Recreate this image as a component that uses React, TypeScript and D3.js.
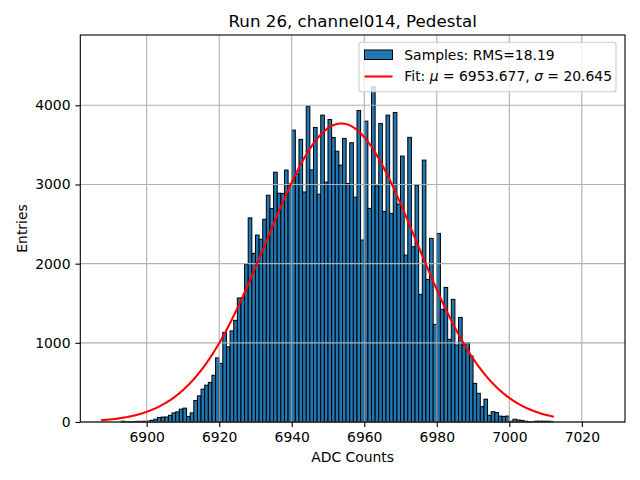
import * as d3 from 'd3';

import React, { useEffect, useRef } from 'react';

// histogram: one bin per ADC count, starting at firstBin
const firstBin = 6893;
const counts = [
  10, 4, 4, 6, 8, 8, 10, 12, 22, 35, 57, 62, 63, 85, 115, 128, 162, 175, 70, 115,
  272, 330, 415, 465, 500, 590, 810, 740, 1132, 950, 1150, 1284, 1566, 1566, 1990, 2578,
  2130, 2361, 2308, 2560, 2864, 2696, 3155, 2890, 2887, 3182, 3005, 3687, 3135, 3570,
  2905, 3990, 3185, 3720, 2877, 3876, 3030, 3821, 3594, 3420, 3245, 3582, 3013, 3527,
  2840, 3935, 2298, 3800, 2698, 4234, 2982, 3771, 2660, 3876, 2635, 3910, 2752, 3359,
  2108, 3595, 2214, 2992, 1612, 3308, 1801, 2319, 1233, 2382, 1423, 1700, 1044, 1549,
  972, 1321, 972, 1002, 833, 488, 362, 194, 288, 85, 130, 120, 75, 70, 75, 10, 35, 25,
  20, 10, 4, 3, 10, 10, 10, 10, 8,
];

const xTicks = [6900, 6920, 6940, 6960, 6980, 7000, 7020];
const yTicks = [0, 1000, 2000, 3000, 4000];
const xDomain = [6881.7, 7031.9];
const yDomain = [0, 4888];

// gaussian fit shown in the legend
const fitMu = 6953.677;
const fitSigma = 20.645;
const fitPeak = 3770;
const fitSpan = [6887.4, 7012.3];

const title = 'Run 26, channel014, Pedestal';
const xLabel = 'ADC Counts';
const yLabel = 'Entries';
const sampleLabel = 'Samples: RMS=18.19';

const W = 640;
const H = 480;
const left = 80.3;
const right = 625;
const top = 35;
const bottom = 422;
const font = 'DejaVu Sans, sans-serif';

export default function App() {
  const ref = useRef(null);

  useEffect(() => {
    const svg = d3.select(ref.current);
    svg.selectAll('*').remove();

    const x = d3.scaleLinear().domain(xDomain).range([left, right]);
    const y = d3.scaleLinear().domain(yDomain).range([bottom, top]);

    svg.append('rect').attr('width', W).attr('height', H).attr('fill', 'white');

    // bars
    const bins = counts.map((c, i) => ({ x0: firstBin + i, x1: firstBin + i + 1, c }));
    svg
      .append('g')
      .selectAll('rect')
      .data(bins)
      .join('rect')
      .attr('x', (d) => x(d.x0))
      .attr('y', (d) => y(d.c))
      .attr('width', (d) => x(d.x1) - x(d.x0))
      .attr('height', (d) => y(0) - y(d.c))
      .attr('fill', '#1f77b4')
      .attr('stroke', 'black')
      .attr('stroke-width', 1);

    // grid above the bars, below the line
    const grid = svg.append('g').attr('stroke', '#b0b0b0').attr('stroke-width', 1.1);
    grid
      .selectAll('line.v')
      .data(xTicks)
      .join('line')
      .attr('x1', (d) => x(d))
      .attr('x2', (d) => x(d))
      .attr('y1', top)
      .attr('y2', bottom);
    grid
      .selectAll('line.h')
      .data(yTicks)
      .join('line')
      .attr('x1', left)
      .attr('x2', right)
      .attr('y1', (d) => y(d))
      .attr('y2', (d) => y(d));

    // fit curve
    const fx = d3.range(fitSpan[0], fitSpan[1], 0.25).concat([fitSpan[1]]);
    const gauss = (v: number) => fitPeak * Math.exp(-0.5 * ((v - fitMu) / fitSigma) ** 2);
    const line = d3
      .line<number>()
      .x((d) => x(d))
      .y((d) => y(gauss(d)));
    svg
      .append('path')
      .attr('d', line(fx))
      .attr('fill', 'none')
      .attr('stroke', 'red')
      .attr('stroke-width', 2.08);

    // frame
    svg
      .append('rect')
      .attr('x', left)
      .attr('y', top)
      .attr('width', right - left)
      .attr('height', bottom - top)
      .attr('fill', 'none')
      .attr('stroke', 'black')
      .attr('stroke-width', 1.1);

    // axes
    const xAxis = svg
      .append('g')
      .attr('transform', `translate(0,${bottom})`)
      .call(d3.axisBottom(x).tickValues(xTicks).tickSize(4.9).tickPadding(4.9).tickFormat(d3.format('d')));
    const yAxis = svg
      .append('g')
      .attr('transform', `translate(${left},0)`)
      .call(d3.axisLeft(y).tickValues(yTicks).tickSize(4.9).tickPadding(4.9).tickFormat(d3.format('d')));
    [xAxis, yAxis].forEach((g) => {
      g.select('.domain').remove();
      g.selectAll('line').attr('stroke', 'black').attr('stroke-width', 1.1);
      g.selectAll('text').attr('font-family', font).attr('font-size', 13.9).attr('fill', 'black');
    });

    // labels
    svg
      .append('text')
      .attr('x', (left + right) / 2)
      .attr('y', 27)
      .attr('text-anchor', 'middle')
      .attr('font-family', font)
      .attr('font-size', 16.7)
      .text(title);
    svg
      .append('text')
      .attr('x', (left + right) / 2)
      .attr('y', 462)
      .attr('text-anchor', 'middle')
      .attr('font-family', font)
      .attr('font-size', 13.9)
      .text(xLabel);
    svg
      .append('text')
      .attr('transform', `translate(27,${(top + bottom) / 2}) rotate(-90)`)
      .attr('text-anchor', 'middle')
      .attr('font-family', font)
      .attr('font-size', 13.9)
      .text(yLabel);

    // legend
    const lg = svg.append('g').attr('font-family', font).attr('font-size', 13.9);
    lg.append('rect')
      .attr('x', 359)
      .attr('y', 42.3)
      .attr('width', 257)
      .attr('height', 49.5)
      .attr('rx', 2.8)
      .attr('fill', 'white')
      .attr('fill-opacity', 0.8)
      .attr('stroke', '#cccccc')
      .attr('stroke-width', 1.1);
    lg.append('rect')
      .attr('x', 364.5)
      .attr('y', 50)
      .attr('width', 28)
      .attr('height', 9.5)
      .attr('fill', '#1f77b4')
      .attr('stroke', 'black')
      .attr('stroke-width', 1);
    lg.append('text').attr('x', 404.3).attr('y', 54.8).attr('dy', '0.35em').text(sampleLabel);
    lg.append('line')
      .attr('x1', 364.5)
      .attr('x2', 392.5)
      .attr('y1', 76.5)
      .attr('y2', 76.5)
      .attr('stroke', 'red')
      .attr('stroke-width', 2.08);
    const ft = lg.append('text').attr('x', 404.3).attr('y', 76.5).attr('dy', '0.35em');
    ft.append('tspan').text('Fit: ');
    ft.append('tspan').attr('font-style', 'italic').text('μ');
    ft.append('tspan').text(` = ${fitMu.toFixed(3)}, `);
    ft.append('tspan').attr('font-style', 'italic').text('σ');
    ft.append('tspan').text(` = ${fitSigma.toFixed(3)}`);
  }, []);

  return (
    <svg
      ref={ref}
      width={W}
      height={H}
      style={{ position: 'absolute', left: 0, top: 0, display: 'block' }}
    ></svg>
  );
}
